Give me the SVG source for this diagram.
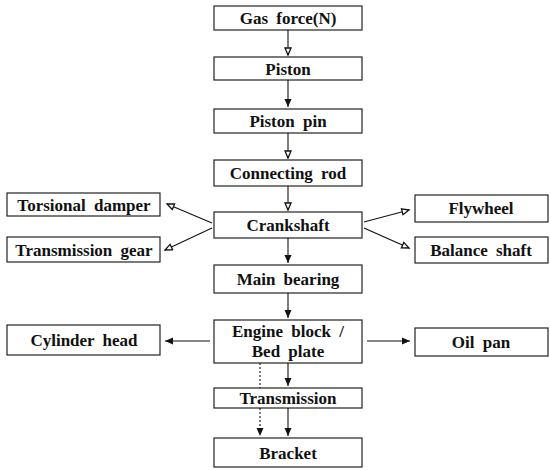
<svg xmlns="http://www.w3.org/2000/svg" width="550" height="470" viewBox="0 0 550 470">
<style>
.box{fill:#fff;stroke:#222;stroke-width:1.2}
.t{font-family:'Liberation Serif','Times New Roman','DejaVu Serif',serif;font-weight:bold;font-size:17px;word-spacing:4px;fill:#111;text-anchor:middle;dominant-baseline:central}
.c{stroke:#111;stroke-width:1.1;fill:none}
.d{stroke:#111;stroke-width:1.1;fill:none;stroke-dasharray:2 2}
</style>
<defs>
<marker id="open" markerWidth="10" markerHeight="10" refX="8" refY="4" orient="auto" markerUnits="userSpaceOnUse"><path d="M1,1 L8,4 L1,7 Z" fill="#fff" stroke="#111" stroke-width="1.3"/></marker>
<marker id="fill" markerWidth="10" markerHeight="10" refX="8" refY="4" orient="auto" markerUnits="userSpaceOnUse"><path d="M0,0.5 L8,4 L0,7.5 Z" fill="#111"/></marker>
</defs>
<g id="gas"><rect class="box" x="214" y="6" width="148" height="24"/><text class="t" x="288" y="18">Gas force(N)</text></g>
<g id="piston"><rect class="box" x="214" y="57" width="148" height="23"/><text class="t" x="288" y="69">Piston</text></g>
<g id="pin"><rect class="box" x="214" y="109" width="148" height="24"/><text class="t" x="288" y="121">Piston pin</text></g>
<g id="rod"><rect class="box" x="214" y="160" width="148" height="26"/><text class="t" x="288" y="173">Connecting rod</text></g>
<g id="crank"><rect class="box" x="214" y="212" width="148" height="26"/><text class="t" x="288" y="225">Crankshaft</text></g>
<g id="bearing"><rect class="box" x="214" y="265" width="148" height="28"/><text class="t" x="288" y="279">Main bearing</text></g>
<g id="block"><rect class="box" x="214" y="320" width="148" height="43"/><text class="t" x="288" y="331">Engine block /</text><text class="t" x="288" y="351">Bed plate</text></g>
<g id="trans"><rect class="box" x="214" y="388" width="148" height="20"/><text class="t" x="288" y="398">Transmission</text></g>
<g id="bracket"><rect class="box" x="214" y="438" width="148" height="29"/><text class="t" x="288" y="453">Bracket</text></g>
<g id="damper"><rect class="box" x="7" y="193" width="153" height="23"/><text class="t" x="84" y="205">Torsional damper</text></g>
<g id="gear"><rect class="box" x="7" y="237" width="153" height="25"/><text class="t" x="84" y="250">Transmission gear</text></g>
<g id="flywheel"><rect class="box" x="415" y="195" width="133" height="27"/><text class="t" x="481" y="208">Flywheel</text></g>
<g id="balance"><rect class="box" x="415" y="237" width="133" height="26"/><text class="t" x="481" y="250">Balance shaft</text></g>
<g id="head"><rect class="box" x="7" y="325" width="153" height="30"/><text class="t" x="84" y="340">Cylinder head</text></g>
<g id="oilpan"><rect class="box" x="415" y="328" width="133" height="28"/><text class="t" x="481" y="342">Oil pan</text></g>
<g id="connectors">
<line class="c" x1="288" y1="30" x2="288" y2="55" marker-end="url(#open)"/>
<line class="c" x1="288" y1="80" x2="288" y2="107" marker-end="url(#fill)"/>
<line class="c" x1="288" y1="133" x2="288" y2="158" marker-end="url(#open)"/>
<line class="c" x1="288" y1="186" x2="288" y2="210" marker-end="url(#open)"/>
<line class="c" x1="288" y1="238" x2="288" y2="263" marker-end="url(#fill)"/>
<line class="c" x1="288" y1="293" x2="288" y2="318" marker-end="url(#fill)"/>
<line class="c" x1="288" y1="363" x2="288" y2="386" marker-end="url(#fill)"/>
<line class="c" x1="288" y1="408" x2="288" y2="436" marker-end="url(#fill)"/>
<line class="d" x1="260" y1="363" x2="260" y2="388"/>
<line class="d" x1="260" y1="408" x2="260" y2="436" marker-end="url(#fill)"/>
<line class="c" x1="212" y1="223" x2="167" y2="204" marker-end="url(#open)"/>
<line class="c" x1="212" y1="228" x2="165" y2="250" marker-end="url(#open)"/>
<line class="c" x1="364" y1="222" x2="409" y2="210" marker-end="url(#open)"/>
<line class="c" x1="364" y1="228" x2="409" y2="248" marker-end="url(#open)"/>
<line class="c" x1="210" y1="341" x2="165" y2="341" marker-end="url(#fill)"/>
<line class="c" x1="367" y1="341" x2="410" y2="341" marker-end="url(#fill)"/>
</g>
</svg>
